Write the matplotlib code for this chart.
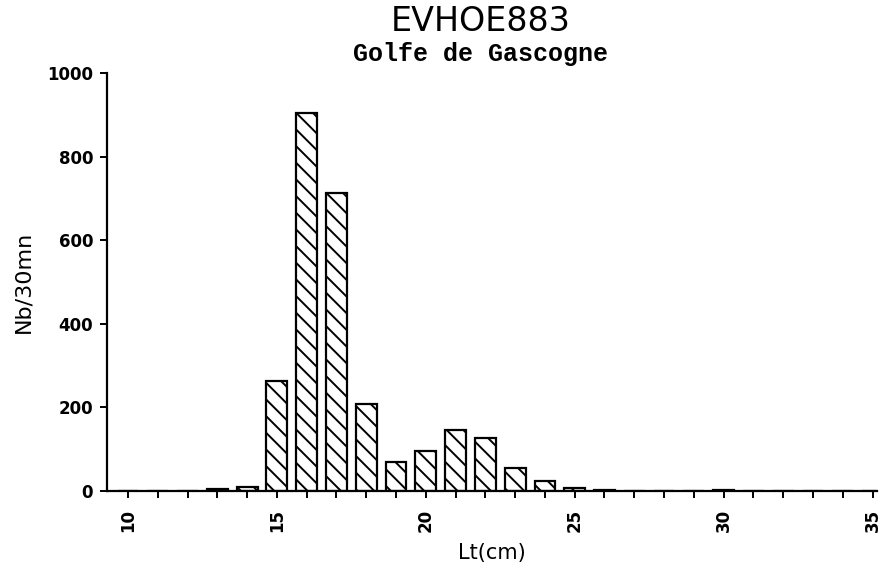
import numpy as np
import matplotlib
matplotlib.use("Agg")
import matplotlib.pyplot as plt

# Longueurs (cm) et effectifs par 30 mn
longueurs = np.arange(10, 36)
effectifs = [0, 1, 1, 4, 9, 263, 905, 713, 208, 70, 96, 146, 128, 56, 24, 7,
             2, 1, 0, 1, 2, 1, 1, 1, 0, 1]
titre = "EVHOE883"
sous_titre = "Golfe de Gascogne"

plt.rcParams['hatch.linewidth'] = 1.4

fig = plt.figure(figsize=(8.85, 5.67), dpi=100)
ax = fig.add_axes([0.121, 0.134, 0.870, 0.737])

ax.bar(longueurs, effectifs, width=0.7, facecolor='white', edgecolor='black',
       linewidth=1.6, hatch='\\\\')

ax.set_xlim(9.3, 35.15)
ax.set_ylim(0, 1000)
ax.spines['top'].set_visible(False)
ax.spines['right'].set_visible(False)
ax.spines['left'].set_linewidth(1.6)
ax.spines['bottom'].set_linewidth(1.6)

ax.set_xticks([10, 15, 20, 25, 30, 35])
ax.set_xticks(np.arange(10, 36), minor=True)
ax.set_yticks([0, 200, 400, 600, 800, 1000])
ax.tick_params(axis='both', which='both', direction='out', length=5, width=1.4)
ax.tick_params(axis='x', labelrotation=90, pad=8)
ax.tick_params(axis='y', pad=5)

for lab in ax.get_xticklabels() + ax.get_yticklabels():
    lab.set_fontsize(12)
    lab.set_fontweight('bold')
    lab.set_family('DejaVu Sans')

ax.set_xlabel("Lt(cm)", fontsize=15, labelpad=8)
ax.set_ylabel("Nb/30mn", fontsize=16, labelpad=10)

fig.text(0.543, 0.962, titre, ha='center', va='center', fontsize=24)
fig.text(0.543, 0.905, sous_titre, ha='center', va='center', fontsize=18,
         fontweight='bold', family='Liberation Mono')

fig.savefig("out.png", dpi=100)
